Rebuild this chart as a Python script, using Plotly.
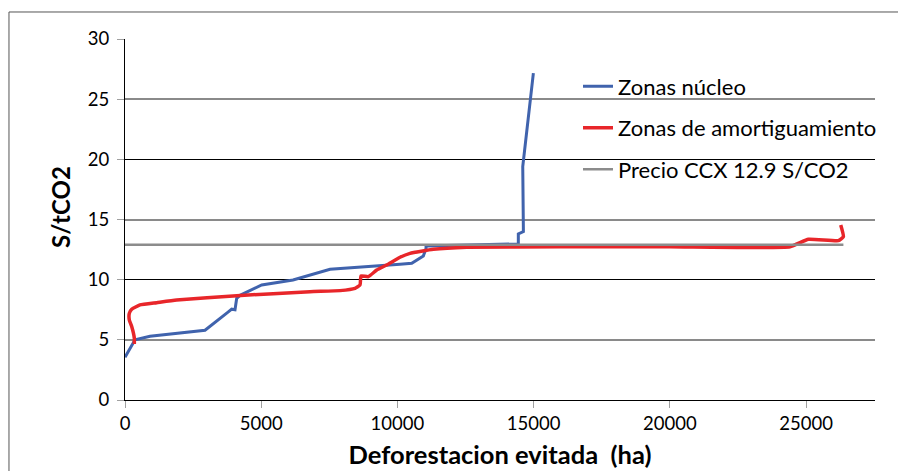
import plotly.graph_objects as go

# --- data ---
nucleo_x = [0, 246, 367, 918, 2937, 3781, 3917, 4038, 4100, 4222, 5018, 6167, 7526,
            10095, 10525, 10951, 11050, 11050, 14438, 14438, 14438, 14624, 14600, 14990]
nucleo_y = [3.55, 4.57, 5.0, 5.3, 5.8, 7.3, 7.55, 7.5, 8.45, 8.7, 9.56, 9.98, 10.86,
            11.28, 11.36, 11.97, 12.6, 12.8, 12.97, 13.08, 13.8, 13.99, 19.4, 27.16]

amort_x = [342, 342, 246, 158, 158, 246, 550, 1164, 1898, 4100, 6791, 7893, 8443, 8627,
           8664, 8933, 9240, 9605, 10095, 10462, 11319, 12543, 16000, 20000, 24412,
           25085, 26186, 26370, 26272]
amort_y = [4.65, 5.13, 6.1, 6.65, 7.2, 7.54, 7.9, 8.09, 8.31, 8.67, 9.0, 9.09, 9.28, 9.56,
           10.31, 10.25, 10.8, 11.22, 11.86, 12.19, 12.52, 12.69, 12.74, 12.74, 12.74,
           13.36, 13.24, 13.58, 14.55]

ccx_x = [0, 26370]
ccx_y = [12.9, 12.9]

names = ["Zonas núcleo", "Zonas de amortiguamiento", "Precio CCX 12.9 S/CO2"]
x_ticks = [0, 5000, 10000, 15000, 20000, 25000]
y_ticks = [0, 5, 10, 15, 20, 25, 30]
grid_gray = [5, 15, 25]
grid_black = [10, 20, 30]

FONT = "Lato"

fig = go.Figure()
fig.add_trace(go.Scatter(x=nucleo_x, y=nucleo_y, mode="lines", name=names[0],
                         line=dict(color="#4063AD", width=3), legendgroup="a"))
fig.add_trace(go.Scatter(x=amort_x, y=amort_y, mode="lines", name=names[1],
                         line=dict(color="#E8262A", width=3.5, shape="spline", smoothing=0.4),
                         legendgroup="b"))
fig.add_trace(go.Scatter(x=ccx_x, y=ccx_y, mode="lines", name=names[2],
                         line=dict(color="#8C8C8C", width=2.5), legendgroup="c"))
# helper (empty) trace so the overlay axis carrying the dark gridlines is drawn
fig.add_trace(go.Scatter(x=[None], y=[None], yaxis="y2", showlegend=False,
                         hoverinfo="skip"))

fig.update_layout(
    width=898, height=463,
    margin=dict(l=117, r=31, t=31, b=71, autoexpand=False),
    paper_bgcolor="white", plot_bgcolor="white",
    font=dict(family=FONT, color="#000000"),
    showlegend=True,
    legend=dict(x=0.604, y=0.927, xanchor="left", yanchor="top",
                bgcolor="rgba(0,0,0,0)", font=dict(size=22, family=FONT),
                tracegroupgap=10, traceorder="grouped"),
    xaxis=dict(range=[0, 27530], tickvals=x_ticks, ticktext=[str(v) for v in x_ticks],
               showgrid=False, zeroline=False, showline=True, linecolor="#000000",
               linewidth=1, ticks="outside", ticklen=7, tickcolor="#A0A0A0",
               tickfont=dict(size=18.5, family=FONT),
               title=dict(text="<b>Deforestacion evitada\u00a0 (ha)</b>",
                          font=dict(size=25.5, family=FONT), standoff=12)),
    yaxis=dict(range=[0, 30], tickvals=y_ticks, ticktext=[str(v) for v in y_ticks],
               showgrid=False, zeroline=False, showline=True, linecolor="#000000",
               linewidth=1, ticks="outside", ticklen=7, tickcolor="#A0A0A0",
               ticklabelstandoff=4,
               tickfont=dict(size=18.5, family=FONT),
               minor=dict(tickvals=grid_gray, showgrid=True, gridcolor="#8A8A8A",
                          gridwidth=2, ticks="")),
    yaxis2=dict(range=[0, 30], overlaying="y", tickvals=grid_black, showgrid=True,
                gridcolor="#000000", gridwidth=1, showticklabels=False, ticks="",
                zeroline=False, showline=False),
)

# y-axis title (placed slightly above centre, as in the reference)
fig.add_annotation(text="<b>S/tCO2</b>", textangle=-90, xref="paper", yref="paper",
                   x=-0.0853, y=0.535, xanchor="center", yanchor="middle",
                   showarrow=False, font=dict(size=24, family=FONT, color="#000000"))

# outer chart frame (partly cropped at right/bottom like the reference)
fig.add_shape(type="rect", xref="paper", yref="paper",
              x0=-0.1547, x1=1.06, y0=-0.25, y1=1.0748,
              line=dict(color="#555555", width=1), layer="below")

fig.write_html("out.html")
